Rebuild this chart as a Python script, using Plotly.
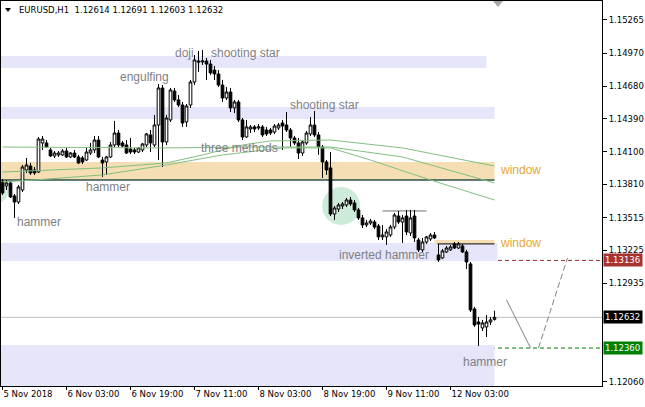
import plotly.graph_objects as go

# ---------------- data ----------------
bars = list(range(124))  # H1 bars, 5 Nov 11:00 ... 12 Nov 14:00

opens = [
    1.13831, 1.13795, 1.13822, 1.13707, 1.13653, 1.13760, 1.13937, 1.13972, 1.13937, 1.13919,
    1.14176, 1.14176, 1.14114, 1.14061, 1.14070, 1.14070, 1.14105, 1.14052, 1.14087, 1.14052,
    1.14043, 1.14025, 1.14087, 1.14114, 1.14202, 1.14025, 1.14008, 1.14052, 1.14158, 1.14264,
    1.14176, 1.14158, 1.14123, 1.14114, 1.14096, 1.14114, 1.14158, 1.14247, 1.14158, 1.14335,
    1.14663, 1.14185, 1.14380, 1.14636, 1.14557, 1.14512, 1.14362, 1.14512, 1.14716, 1.14902,
    1.14893, 1.14902, 1.14875, 1.14822, 1.14787, 1.14689, 1.14574, 1.14627, 1.14486, 1.14539,
    1.14380, 1.14229, 1.14300, 1.14318, 1.14309, 1.14318, 1.14291, 1.14291, 1.14273, 1.14309,
    1.14353, 1.14335, 1.14291, 1.14220, 1.14176, 1.14087, 1.14176, 1.14256, 1.14335, 1.14247,
    1.14140, 1.14008, 1.13955, 1.13547, 1.13591, 1.13618, 1.13627, 1.13671, 1.13645, 1.13583,
    1.13512, 1.13450, 1.13467, 1.13476, 1.13441, 1.13344, 1.13344, 1.13361, 1.13432, 1.13529,
    1.13476, 1.13529, 1.13379, 1.13529, 1.13317, 1.13229, 1.13299, 1.13326, 1.13361, 1.13184,
    1.13158, 1.13211, 1.13229, 1.13282, 1.13246, 1.13264, 1.13211, 1.13105, 1.12706, 1.12591,
    1.12538, 1.12547, 1.12591, 1.12614,
]
highs = [
    1.13857, 1.13848, 1.13839, 1.13724, 1.13804, 1.13981, 1.14043, 1.13999, 1.13963, 1.14229,
    1.14238, 1.14202, 1.14132, 1.14105, 1.14105, 1.14123, 1.14132, 1.14096, 1.14114, 1.14070,
    1.14061, 1.14132, 1.14176, 1.14238, 1.14238, 1.14052, 1.14061, 1.14185, 1.14371, 1.14291,
    1.14194, 1.14202, 1.14220, 1.14132, 1.14140, 1.14176, 1.14264, 1.14291, 1.14424, 1.14698,
    1.14689, 1.14424, 1.14663, 1.14663, 1.14601, 1.14539, 1.14521, 1.14734, 1.14955, 1.14990,
    1.14999, 1.14929, 1.14911, 1.14858, 1.14822, 1.14734, 1.14672, 1.14663, 1.14557, 1.14557,
    1.14397, 1.14380, 1.14335, 1.14335, 1.14344, 1.14335, 1.14318, 1.14309, 1.14344, 1.14353,
    1.14380, 1.14450, 1.14309, 1.14238, 1.14220, 1.14202, 1.14282, 1.14406, 1.14459, 1.14273,
    1.14158, 1.14025, 1.14096, 1.13618, 1.13645, 1.13653, 1.13689, 1.13698, 1.13671, 1.13600,
    1.13538, 1.13494, 1.13503, 1.13494, 1.13459, 1.13450, 1.13414, 1.13450, 1.13556, 1.13574,
    1.13538, 1.13583, 1.13583, 1.13583, 1.13335, 1.13335, 1.13352, 1.13379, 1.13388, 1.13282,
    1.13237, 1.13264, 1.13273, 1.13299, 1.13299, 1.13282, 1.13229, 1.13122, 1.12724, 1.12635,
    1.12609, 1.12653, 1.12635, 1.12691,
]
lows = [
    1.13715, 1.13760, 1.13689, 1.13512, 1.13636, 1.13742, 1.13910, 1.13893, 1.13893, 1.13910,
    1.14114, 1.14132, 1.14052, 1.14043, 1.14052, 1.14061, 1.14043, 1.14043, 1.14043, 1.13990,
    1.13990, 1.14017, 1.14070, 1.14087, 1.14043, 1.13875, 1.13893, 1.14043, 1.14140, 1.14140,
    1.14140, 1.14078, 1.14078, 1.14078, 1.14087, 1.14096, 1.14140, 1.14096, 1.14140, 1.14025,
    1.13963, 1.14158, 1.14362, 1.14539, 1.14495, 1.14318, 1.14318, 1.14486, 1.14689, 1.14805,
    1.14867, 1.14734, 1.14778, 1.14734, 1.14672, 1.14539, 1.14557, 1.14450, 1.14441, 1.14362,
    1.14202, 1.14220, 1.14264, 1.14273, 1.14291, 1.14229, 1.14238, 1.14247, 1.14256, 1.14291,
    1.14114, 1.14273, 1.14140, 1.14158, 1.14034, 1.14061, 1.14158, 1.14238, 1.14229, 1.14070,
    1.13866, 1.13893, 1.13529, 1.13494, 1.13565, 1.13591, 1.13609, 1.13618, 1.13565, 1.13494,
    1.13423, 1.13432, 1.13450, 1.13414, 1.13317, 1.13317, 1.13273, 1.13344, 1.13414, 1.13459,
    1.13290, 1.13361, 1.13352, 1.13299, 1.13211, 1.13211, 1.13282, 1.13308, 1.13326, 1.13122,
    1.13149, 1.13202, 1.13220, 1.13237, 1.13237, 1.13202, 1.13060, 1.12679, 1.12547, 1.12379,
    1.12511, 1.12458, 1.12564, 1.12603,
]
closes = [
    1.13733, 1.13822, 1.13698, 1.13653, 1.13786, 1.13963, 1.13981, 1.13910, 1.13910, 1.14211,
    1.14211, 1.14140, 1.14061, 1.14087, 1.14087, 1.14105, 1.14052, 1.14087, 1.14052, 1.13999,
    1.14008, 1.14096, 1.14114, 1.14202, 1.14052, 1.13999, 1.14052, 1.14158, 1.14264, 1.14158,
    1.14149, 1.14087, 1.14096, 1.14096, 1.14132, 1.14167, 1.14256, 1.14176, 1.14335, 1.14663,
    1.14185, 1.14397, 1.14645, 1.14557, 1.14512, 1.14353, 1.14503, 1.14716, 1.14911, 1.14893,
    1.14902, 1.14875, 1.14796, 1.14787, 1.14689, 1.14574, 1.14627, 1.14486, 1.14539, 1.14380,
    1.14229, 1.14318, 1.14318, 1.14300, 1.14318, 1.14247, 1.14256, 1.14264, 1.14326, 1.14335,
    1.14326, 1.14291, 1.14220, 1.14176, 1.14087, 1.14185, 1.14264, 1.14335, 1.14247, 1.14140,
    1.14008, 1.13937, 1.13547, 1.13600, 1.13627, 1.13636, 1.13671, 1.13636, 1.13583, 1.13512,
    1.13450, 1.13467, 1.13485, 1.13432, 1.13344, 1.13361, 1.13388, 1.13432, 1.13538, 1.13476,
    1.13512, 1.13388, 1.13512, 1.13335, 1.13229, 1.13299, 1.13344, 1.13361, 1.13335, 1.13140,
    1.13220, 1.13246, 1.13255, 1.13246, 1.13282, 1.13211, 1.13122, 1.12697, 1.12564, 1.12573,
    1.12582, 1.12591, 1.12609, 1.12632,
]

time_ticks = [0, 16, 32, 48, 64, 80, 96, 112]
time_labels = ["5 Nov 2018", "6 Nov 03:00", "6 Nov 19:00", "7 Nov 11:00",
               "8 Nov 03:00", "8 Nov 19:00", "9 Nov 11:00", "12 Nov 03:00"]
price_ticks = [1.15265, 1.14970, 1.14680, 1.14390, 1.14100, 1.13810,
               1.13515, 1.13225, 1.12935, 1.12060]

# moving averages (read at a few bars)
ma1_x = [0, 40, 62, 82, 100, 123]
ma1_y = [1.14140, 1.14132, 1.14140, 1.14140, 1.14052, 1.13822]
ma2_x = [0, 25, 41, 50, 60, 67, 82, 100, 123]
ma2_y = [1.13919, 1.13955, 1.13999, 1.14070, 1.14158, 1.14194, 1.14202, 1.14132, 1.13972]
ma3_x = [0, 8, 25, 41, 55, 70, 82, 92, 107, 123]
ma3_y = [1.13831, 1.13848, 1.13893, 1.13981, 1.14070, 1.14132, 1.14132, 1.14025, 1.13848, 1.13671]

# analysis objects: zones (x0, x1, y0, y1, colour)
zones = [
    (-2, 121, 1.14840, 1.14946, "#e6e6fa"),
    (-2, 123, 1.14388, 1.14495, "#e6e6fa"),
    (-2, 123, 1.13848, 1.14008, "#f5deb3"),
    (-2, 123.75, 1.13131, 1.13290, "#e6e6fa"),
    (108, 123, 1.13282, 1.13317, "#f5deb3"),
    (-2, 123, 1.11900, 1.12387, "#e6e6fa"),
]
circles = [
    (-5.5, 1.5, 1.13636, 1.13884),
    (79.9, 89.4, 1.13450, 1.13786),
]
segments = [  # (x0, y0, x1, y1, colour, width, dash)
    (-2, 1.13848, 123, 1.13848, "#2f4f4f", 1.5, "solid"),
    (108.75, 1.13282, 123, 1.13282, "#303030", 1.2, "solid"),
    (95, 1.13574, 106, 1.13574, "#707070", 1, "solid"),
    (126, 1.12786, 132, 1.12361, "#808080", 1, "solid"),
    (134, 1.12361, 141.25, 1.13158, "#808080", 1, "6px,3px"),
]
price_lines = [  # (price, line colour, dash, label bg)
    (1.13136, "#9b3030", "4px,3px", "#a83232"),
    (1.12632, "#c0c0c0", "solid", "#000000"),
    (1.12360, "#008000", "4px,3px", "#008000"),
]
pattern_labels = [  # (text, bar, price, colour)
    ("doji", 42.5, 1.14973, "#7f7f86"),
    ("shooting star", 51.5, 1.14973, "#7f7f86"),
    ("engulfing", 28.75, 1.14760, "#7f7f86"),
    ("shooting star", 71.25, 1.14512, "#7f7f86"),
    ("three methods", 49, 1.14132, "#7f7f86"),
    ("hammer", 20.25, 1.13786, "#7f7f86"),
    ("hammer", 3, 1.13476, "#7f7f86"),
    ("inverted hammer", 83.5, 1.13184, "#7f7f86"),
    ("hammer", 114.5, 1.12237, "#7f7f86"),
    ("window", 123.75, 1.13937, "#e5a832"),
    ("window", 123.75, 1.13290, "#e5a832"),
]
title_text = "EURUSD,H1  1.12614 1.12691 1.12603 1.12632"

# ---------------- figure ----------------
fig = go.Figure()

shapes = []
for (x0, x1, y0, y1) in circles[:1]:
    shapes.append(dict(type="circle", xref="x", yref="y", x0=x0, x1=x1, y0=y0, y1=y1,
                       fillcolor="#cdebd9", line=dict(width=0), layer="below"))
for (x0, x1, y0, y1, c) in zones:
    shapes.append(dict(type="rect", xref="x", yref="y", x0=x0, x1=x1, y0=y0, y1=y1,
                       fillcolor=c, line=dict(width=0), layer="below"))
for (x0, x1, y0, y1) in circles[1:]:
    shapes.append(dict(type="circle", xref="x", yref="y", x0=x0, x1=x1, y0=y0, y1=y1,
                       fillcolor="#cdebd9", line=dict(width=0), layer="below"))
for (p, c, d, bg) in price_lines:
    shapes.append(dict(type="line", xref="paper", yref="y", x0=0, x1=1, y0=p, y1=p,
                       line=dict(color=c, width=1, dash=d), layer="below"))
for (x0, y0, x1, y1, c, w, d) in segments:
    shapes.append(dict(type="line", xref="x", yref="y", x0=x0, x1=x1, y0=y0, y1=y1,
                       line=dict(color=c, width=w, dash=d), layer="below"))
# chart-shift marker and one-click triangle
shapes.append(dict(type="path", xref="paper", yref="paper",
                   path="M 0.8186 1.0 L 0.8353 1.0 L 0.8270 0.9844 Z",
                   fillcolor="#a8a8a8", line=dict(width=0)))
shapes.append(dict(type="path", xref="paper", yref="paper",
                   path="M 0.0067 0.9818 L 0.0166 0.9818 L 0.0117 0.9714 Z",
                   fillcolor="#000000", line=dict(width=0)))

fig.add_trace(go.Candlestick(
    x=bars, open=opens, high=highs, low=lows, close=closes,
    increasing=dict(line=dict(color="black", width=1), fillcolor="white"),
    decreasing=dict(line=dict(color="black", width=1), fillcolor="black"),
    whiskerwidth=0, showlegend=False, hoverinfo="skip",
))
for mx, my in [(ma1_x, ma1_y), (ma2_x, ma2_y), (ma3_x, ma3_y)]:
    fig.add_trace(go.Scatter(x=mx, y=my, mode="lines",
                             line=dict(color="#80c080", width=1),
                             showlegend=False, hoverinfo="skip"))

annotations = []
for (t, x, y, c) in pattern_labels:
    annotations.append(dict(x=x, y=y, xref="x", yref="y", text=t, showarrow=False,
                            xanchor="left", yanchor="middle",
                            font=dict(family="Liberation Sans", size=12, color=c)))
for (p, c, d, bg) in price_lines:
    annotations.append(dict(x=1, xref="paper", y=p, yref="y", text=f"{p:.5f}",
                            showarrow=False, xanchor="left", yanchor="middle", xshift=1,
                            bgcolor=bg, borderpad=1, width=36, align="left",
                            font=dict(family="DejaVu Sans", size=8.5, color="white")))
annotations.append(dict(x=0.0266, y=0.9766, xref="paper", yref="paper", text=title_text,
                        showarrow=False, xanchor="left", yanchor="middle",
                        font=dict(family="DejaVu Sans", size=8.5, color="black")))

fig.update_layout(
    width=645, height=407,
    margin=dict(l=1, r=43, t=1, b=21),
    paper_bgcolor="white", plot_bgcolor="white",
    showlegend=False,
    boxgap=0.05,
    font=dict(family="DejaVu Sans", size=8.5, color="black"),
    shapes=shapes, annotations=annotations,
    xaxis=dict(range=[-0.375, 149.875], showgrid=False, zeroline=False,
               showline=True, mirror=True, linecolor="black", linewidth=1,
               tickvals=time_ticks, ticktext=time_labels, ticks="outside",
               ticklen=3, tickcolor="black", ticklabelposition="outside right",
               rangeslider=dict(visible=False), fixedrange=True),
    yaxis=dict(side="right", range=[1.12024, 1.15433], showgrid=False, zeroline=False,
               showline=True, mirror=True, linecolor="black", linewidth=1,
               tickvals=price_ticks, ticktext=[f"{v:.5f}" for v in price_ticks],
               ticks="outside", ticklen=4, tickcolor="black", fixedrange=True),
)

fig.write_html("out.html", config={"displayModeBar": False},
               post_script="document.body.style.margin='0px';document.body.style.overflow='hidden';")
